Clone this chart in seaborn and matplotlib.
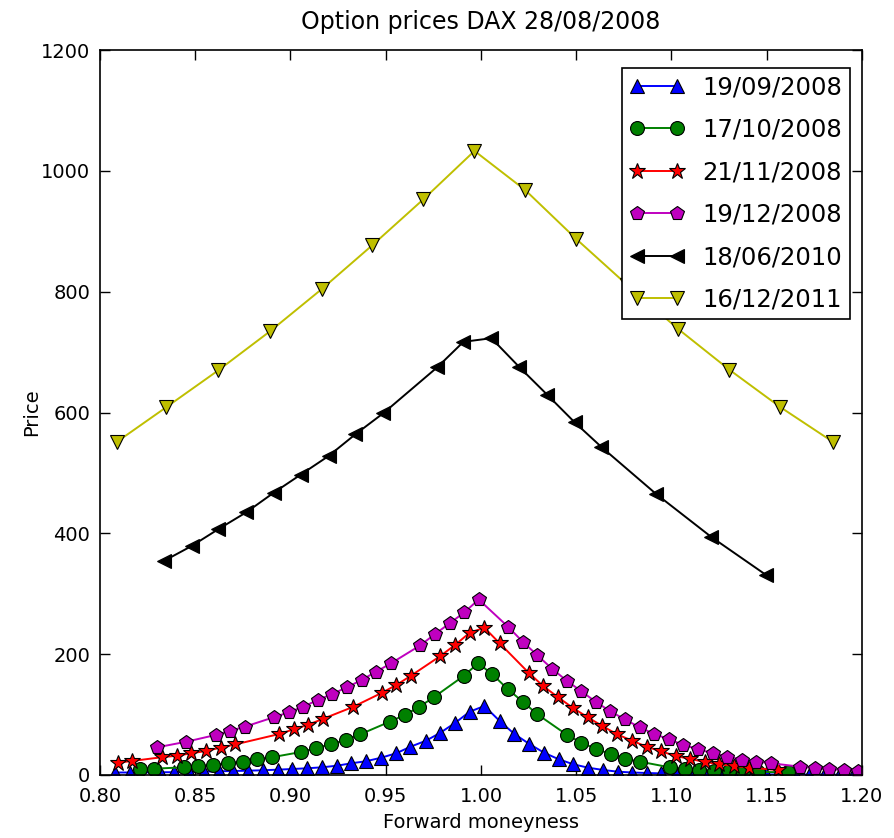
import numpy as np
import pandas as pd
import matplotlib
matplotlib.use("Agg")
import matplotlib.pyplot as plt
import seaborn as sns

# maturidades (legenda)
maturities = ["19/09/2008", "17/10/2008", "21/11/2008", "19/12/2008", "18/06/2010", "16/12/2011"]

# 19/09/2008
m_sep08 = [0.8078, 0.8157, 0.8314, 0.8391, 0.8466, 0.8545, 0.8624, 0.8699, 0.8778, 0.8855,
           0.8933, 0.9009, 0.9088, 0.9166, 0.9245, 0.9320, 0.9396, 0.9476, 0.9555, 0.9630,
           0.9712, 0.9787, 0.9866, 0.9941, 1.0018, 1.0098, 1.0175, 1.0254, 1.0331, 1.0408,
           1.0485, 1.0562, 1.0641, 1.0717, 1.0793, 1.0870, 1.0946, 1.1023, 1.1099, 1.1177,
           1.1253, 1.1330, 1.1496, 1.1650, 1.1723, 1.1802, 1.1880, 1.1955]
p_sep08 = [4.1, 4.1, 4.5, 4.6, 5.0, 5.5, 6.1, 6.6, 7.1, 7.8,
           8.8, 9.9, 11.1, 12.7, 15.4, 19.4, 22.7, 28.6, 35.9, 46.8,
           56.8, 70.0, 86.6, 104.8, 114.2, 89.4, 67.9, 51.3, 36.9, 26.0,
           17.7, 12.1, 8.3, 5.5, 4.1, 3.3, 2.6, 2.2, 1.8, 1.5,
           1.3, 1.1, 0.9, 0.8, 0.7, 0.6, 0.5, 0.5]

# 17/10/2008
m_oct08 = [0.8209, 0.8283, 0.8440, 0.8516, 0.8594, 0.8671, 0.8750, 0.8825, 0.8902, 0.9056,
           0.9135, 0.9214, 0.9290, 0.9367, 0.9521, 0.9600, 0.9677, 0.9752, 0.9909, 0.9985,
           1.0058, 1.0140, 1.0219, 1.0296, 1.0450, 1.0527, 1.0604, 1.0680, 1.0755, 1.0836,
           1.0990, 1.1069, 1.1146, 1.1223, 1.1300, 1.1377, 1.1452, 1.1610]
p_oct08 = [9.4, 10.4, 12.7, 14.9, 16.6, 19.4, 22.0, 26.0, 29.3, 38.1,
           44.7, 51.3, 57.9, 67.4, 88.2, 99.3, 113.0, 128.6, 163.9, 184.9,
           167.2, 142.3, 121.3, 100.5, 66.7, 53.5, 43.0, 34.8, 27.0, 22.0,
           12.7, 9.9, 8.3, 7.1, 6.1, 5.5, 5.0, 4.5]

# 21/11/2008
m_nov08 = [0.8096, 0.8169, 0.8323, 0.8402, 0.8479, 0.8556, 0.8633, 0.8709, 0.8942, 0.9017,
           0.9094, 0.9173, 0.9327, 0.9481, 0.9556, 0.9633, 0.9787, 0.9866, 0.9941, 1.0018,
           1.0098, 1.0250, 1.0326, 1.0405, 1.0483, 1.0560, 1.0637, 1.0714, 1.0793, 1.0869,
           1.0945, 1.1022, 1.1099, 1.1176, 1.1252, 1.1329, 1.1406, 1.1559]
p_nov08 = [20.4, 23.2, 29.3, 31.9, 35.9, 39.7, 45.2, 50.5, 67.9, 75.6,
           83.3, 93.2, 112.5, 136.2, 149.0, 164.4, 197.0, 215.7, 235.5, 243.8,
           218.0, 169.3, 147.3, 128.6, 110.9, 95.5, 81.1, 67.4, 56.8, 46.8,
           39.2, 31.4, 26.5, 21.5, 17.7, 14.9, 12.1, 8.3]

# 19/12/2008
m_dec08 = [0.8301, 0.8454, 0.8607, 0.8685, 0.8760, 0.8912, 0.8991, 0.9067, 0.9143, 0.9219,
           0.9297, 0.9373, 0.9450, 0.9528, 0.9682, 0.9757, 0.9836, 0.9913, 0.9988, 1.0142,
           1.0219, 1.0296, 1.0373, 1.0450, 1.0527, 1.0604, 1.0679, 1.0754, 1.0833, 1.0910,
           1.0987, 1.1063, 1.1141, 1.1218, 1.1294, 1.1371, 1.1445, 1.1524, 1.1676, 1.1754,
           1.1829, 1.1907, 1.1978]
p_dec08 = [45.8, 55.1, 66.2, 73.3, 79.9, 95.5, 103.8, 113.0, 124.1, 134.1,
           145.2, 157.2, 171.0, 184.9, 214.7, 232.9, 251.1, 269.3, 290.5, 245.4,
           220.6, 198.1, 175.9, 156.1, 138.5, 120.8, 105.4, 92.2, 78.9, 67.9,
           59.1, 49.7, 42.5, 35.9, 30.3, 25.3, 22.0, 19.4, 13.7, 11.1,
           9.4, 8.3, 7.1]

# 18/06/2010
m_jun10 = [0.8334, 0.8481, 0.8622, 0.8769, 0.8911, 0.9053, 0.9200, 0.9341, 0.9488, 0.9771,
           0.9908, 1.0055, 1.0202, 1.0349, 1.0491, 1.0632, 1.0920, 1.1209, 1.1497]
p_jun10 = [354, 379, 407, 435, 467, 497, 528, 564, 599, 675,
           717, 723, 675, 629, 584, 543, 465, 394, 331]

# 16/12/2011
m_dec11 = [0.8087, 0.8349, 0.8622, 0.8895, 0.9163, 0.9430, 0.9698, 0.9966, 1.0233, 1.0501,
           1.0768, 1.1036, 1.1303, 1.1571, 1.1849]
p_dec11 = [551, 609, 670, 735, 804, 877, 953, 1033, 968, 887,
           811, 738, 671, 609, 551]

series = [(m_sep08, p_sep08), (m_oct08, p_oct08), (m_nov08, p_nov08),
          (m_dec08, p_dec08), (m_jun10, p_jun10), (m_dec11, p_dec11)]
cores = ["#0000ff", "#008000", "#ff0000", "#bf00bf", "#000000", "#bfbf00"]
marcadores = ["^", "o", "*", "p", "<", "v"]
tamanhos = [10, 10, 12, 10, 10, 10]

sns.set_style("ticks")
plt.rcParams["font.family"] = ["DejaVu Sans"]
plt.rcParams["text.color"] = "black"
plt.rcParams["axes.labelcolor"] = "black"

fig = plt.figure(figsize=(8.95, 8.38), dpi=100)
ax = fig.add_axes([0.1117, 0.0752, 0.8514, 0.8651])

for (mm, pp), nome, cor, mk, ms in zip(series, maturities, cores, marcadores, tamanhos):
    df = pd.DataFrame({"moneyness": mm, "price": pp})
    sns.lineplot(data=df, x="moneyness", y="price", ax=ax, color=cor, marker=mk,
                 markersize=ms, markeredgecolor="black", markeredgewidth=0.8,
                 linewidth=1.4, label=nome, sort=False, estimator=None)

ax.set_xlim(0.80, 1.20)
ax.set_ylim(0, 1200)
ax.set_xticks(np.arange(0.80, 1.2001, 0.05))
ax.set_xticklabels([f"{v:.2f}" for v in np.arange(0.80, 1.2001, 0.05)])
ax.set_yticks(np.arange(0, 1201, 200))
ax.tick_params(direction="in", top=True, right=True, length=7, width=1,
               labelsize=14, colors="black")
ax.tick_params(axis="x", pad=9)
ax.tick_params(axis="y", pad=7)
for s in ax.spines.values():
    s.set_color("black")
    s.set_linewidth(1.2)

ax.set_title("Option prices DAX 28/08/2008", fontsize=17, pad=15, color="black")
ax.set_xlabel("Forward moneyness", fontsize=14, labelpad=5)
ax.set_ylabel("Price", fontsize=14, labelpad=0)

leg = ax.legend(loc="upper right", bbox_to_anchor=(1.0, 0.992), numpoints=2,
                fontsize=17.5, fancybox=False, framealpha=1, edgecolor="black",
                labelspacing=0.76, handlelength=2.25, handletextpad=0.75,
                borderpad=0.3, borderaxespad=0.5)
leg.get_frame().set_linewidth(1.2)
for t in leg.get_texts():
    t.set_color("black")

fig.savefig("out.png", dpi=100)
